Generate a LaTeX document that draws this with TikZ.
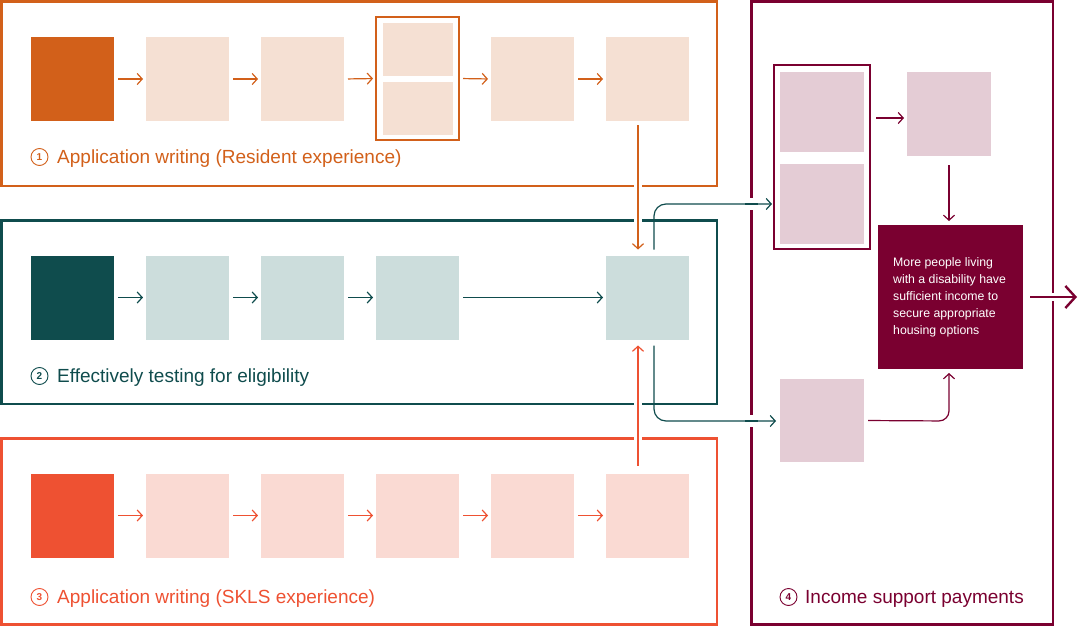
\documentclass[tikz,border=0pt]{standalone}
\usepackage{fontspec}
\setmainfont{Liberation Sans}
\usetikzlibrary{arrows.meta}
\definecolor{orD}{HTML}{D2601A}
\definecolor{orL}{HTML}{F5E0D3}
\definecolor{tlD}{HTML}{0F4C4D}
\definecolor{tlL}{HTML}{CCDDDC}
\definecolor{rdD}{HTML}{EE5132}
\definecolor{rdL}{HTML}{FADAD3}
\definecolor{mrD}{HTML}{7A0030}
\definecolor{mrL}{HTML}{E4CCD5}
\begin{document}
\begin{tikzpicture}[x=1pt,y=-1pt,
 box/.style={minimum width=83pt,minimum height=84pt,inner sep=0,outer sep=0},
 sbox/.style={minimum width=70pt,minimum height=53pt,inner sep=0,outer sep=0},
 mbox/.style={minimum width=84pt,minimum height=80pt,inner sep=0,outer sep=0},
 frame/.style={line width=2.6pt},
 conn/.style={line width=1.2pt,-{Straight Barb[length=5pt,width=11pt,line width=1.2pt]}},
 gap/.style={preaction={draw=white,line width=8pt,-}},
 lbl/.style={anchor=base west,font=\fontsize{19}{22}\selectfont,inner sep=0},
 num/.style={circle,draw,line width=0.9pt,minimum size=17pt,inner sep=0,font=\fontsize{10}{10}\selectfont\bfseries},
]
\useasboundingbox (0,0) rectangle (1080,626);

% frames
\draw[frame,orD] (1.5,1.5) rectangle (717,186);
\draw[frame,tlD] (1.5,220.5) rectangle (717,404);
\draw[frame,rdD] (1.5,438.5) rectangle (717,624.5);
\draw[frame,mrD] (751.5,1.5) rectangle (1053,624.5);

% labels
\node[num,orD] (n1) at (39.5,157) {1};
\node[lbl,orD] (l1) at (57,163.5) {Application writing (Resident experience)};
\node[num,tlD] (n2) at (39.5,376) {2};
\node[lbl,tlD] (l2) at (57,382.5) {Effectively testing for eligibility};
\node[num,rdD] (n3) at (39.5,597) {3};
\node[lbl,rdD] (l3) at (57,603.5) {Application writing (SKLS experience)};
\node[num,mrD] (n4) at (788.5,597) {4};
\node[lbl,mrD] (l4) at (805,603.5) {Income support payments};

% row 1
\node[box,fill=orD] (a1) at (72.5,79) {};
\node[box,fill=orL] (a2) at (187.5,79) {};
\node[box,fill=orL] (a3) at (302.5,79) {};
\node[draw=orD,line width=1.2pt,minimum width=83pt,minimum height=123pt,inner sep=0,outer sep=0] (a4) at (417.5,78.5) {};
\node[sbox,fill=orL] (a4a) at (418,49.5) {};
\node[sbox,fill=orL] (a4b) at (418,108.5) {};
\node[box,fill=orL] (a5) at (532.5,79) {};
\node[box,fill=orL] (a6) at (647.5,79) {};
\foreach \s/\t in {a1/a2,a2/a3,a3/a4,a4/a5,a5/a6}
  \draw[conn,orD,shorten <=4pt,shorten >=3pt] (\s.east) -- (\t.west);

% row 2
\node[box,fill=tlD] (b1) at (72.5,297.5) {};
\node[box,fill=tlL] (b2) at (187.5,297.5) {};
\node[box,fill=tlL] (b3) at (302.5,297.5) {};
\node[box,fill=tlL] (b4) at (417.5,297.5) {};
\node[box,fill=tlL] (b6) at (647.5,297.5) {};
\foreach \s/\t in {b1/b2,b2/b3,b3/b4,b4/b6}
  \draw[conn,tlD,shorten <=4pt,shorten >=3pt] (\s.east) -- (\t.west);

% row 3
\node[box,fill=rdD] (c1) at (72.5,515.5) {};
\node[box,fill=rdL] (c2) at (187.5,515.5) {};
\node[box,fill=rdL] (c3) at (302.5,515.5) {};
\node[box,fill=rdL] (c4) at (417.5,515.5) {};
\node[box,fill=rdL] (c5) at (532.5,515.5) {};
\node[box,fill=rdL] (c6) at (647.5,515.5) {};
\foreach \s/\t in {c1/c2,c2/c3,c3/c4,c4/c5,c5/c6}
  \draw[conn,rdD,shorten <=4pt,shorten >=3pt] (\s.east) -- (\t.west);

% right column
\node[draw=mrD,line width=1.2pt,minimum width=96pt,minimum height=184pt,inner sep=0,outer sep=0] (d1) at (822,157) {};
\node[mbox,fill=mrL] (d1a) at (822,112) {};
\node[mbox,fill=mrL] (d1b) at (822,203.5) {};
\node[mbox,fill=mrL,minimum height=84pt] (d2) at (949,114) {};
\node[fill=mrD,minimum width=145pt,minimum height=144pt,inner sep=0,outer sep=0] (goal) at (950.5,297) {};
\node[anchor=north west,align=left,text=white,inner sep=0,font=\fontsize{12.3}{17}\selectfont] (gt) at (893,257)
 {More people living\\with a disability have\\sufficient income to\\secure appropriate\\housing options};
\node[mbox,fill=mrL,minimum height=83pt] (d3) at (822,420.5) {};
\coordinate (out) at (1077,297);
\coordinate (t1) at (772,204);
\coordinate (t2) at (776,421);
\coordinate (g1) at (949,373);
\coordinate (g0) at (949,221);

\draw[conn,mrD,shorten <=6pt,shorten >=3pt] (d1.east |- 0,118) -- (d2.west |- 0,118);
\draw[conn,mrD,shorten <=9pt] (d2.south) -- (g0);
\draw[conn,mrD,rounded corners=10pt,shorten <=4pt] (d3.east) -- (949,421) -- (g1);
\draw[mrD,gap,line width=2.4pt,-{Straight Barb[length=10pt,width=22pt,line width=2.4pt]},shorten <=7pt] (goal.east) -- (out);

% cross connectors
\draw[conn,orD,gap,shorten <=4pt,shorten >=6pt] ([xshift=-9.5pt]a6.south) -- ([xshift=-9.5pt]b6.north);
\draw[conn,rdD,gap,shorten <=8pt,shorten >=6pt] ([xshift=-9.5pt]c6.north) -- ([xshift=-9.5pt]b6.south);
\draw[conn,tlD,rounded corners=12pt] ([xshift=6.5pt,yshift=6pt]b6.north) -- (654,204) -- (t1);
\draw[conn,tlD,rounded corners=12pt] ([xshift=6.5pt,yshift=-6pt]b6.south) -- (654,421) -- (t2);
% gaps in maroon frame
\draw[white,line width=8pt] (751.5,198) -- (751.5,210);
\draw[white,line width=8pt] (751.5,415) -- (751.5,427);
\draw[tlD,line width=1.2pt] (745,204) -- (758,204);
\draw[tlD,line width=1.2pt] (745,421) -- (758,421);
\end{tikzpicture}
\end{document}
